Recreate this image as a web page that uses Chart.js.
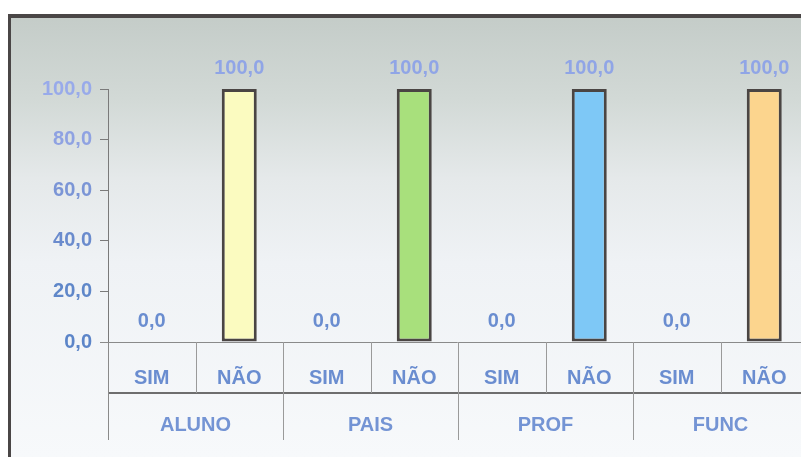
<!DOCTYPE html>
<html>
<head>
<meta charset="utf-8">
<script src="https://cdn.jsdelivr.net/npm/chart.js@4.4.1/dist/chart.umd.min.js"></script>
<style>
  html, body { margin: 0; padding: 0; background: #ffffff; overflow: hidden; }
  #wrap { width: 801px; height: 457px; overflow: hidden; position: relative; }
  canvas { position: absolute; left: 0; top: 0; }
</style>
</head>
<body>
<div id="wrap"><canvas id="c" width="815" height="457"></canvas></div>
<script>
// Groups and answers of the survey
const groups = ['ALUNO', 'PAIS', 'PROF', 'FUNC'];
const answers = ['SIM', 'NÃO'];
const simValues = [0.0, 0.0, 0.0, 0.0];
const naoValues = [100.0, 100.0, 100.0, 100.0];
const naoColors = ['#fbfbc0', '#a8e07c', '#7ec8f6', '#fcd58e'];
const yTickValues = [0, 20, 40, 60, 80, 100];

// Interleave answers per group: SIM, NÃO, SIM, NÃO, ...
const labels = [];
const values = [];
const colors = [];
groups.forEach((g, i) => {
  labels.push(answers[0]); values.push(simValues[i]); colors.push(naoColors[i]);
  labels.push(answers[1]); values.push(naoValues[i]); colors.push(naoColors[i]);
});

const FONT = '"Liberation Sans", Arial, sans-serif';
const fmt = v => v.toFixed(1).replace('.', ',');

// Frame and soft vertical gradient behind the chart
const framePlugin = {
  id: 'frame',
  beforeDraw(chart) {
    const ctx = chart.ctx;
    const w = chart.width, h = chart.height;
    ctx.save();
    ctx.fillStyle = '#ffffff';
    ctx.fillRect(0, 0, w, h);
    const g = ctx.createLinearGradient(0, 15, 0, h);
    g.addColorStop(0.0, '#c4ccc8');
    g.addColorStop(0.19, '#d2d9d6');
    g.addColorStop(0.37, '#e5e9ea');
    g.addColorStop(0.56, '#eff2f5');
    g.addColorStop(1.0, '#f7f9fb');
    ctx.fillStyle = g;
    ctx.fillRect(9, 15, w - 9, h - 15);
    ctx.fillStyle = '#4a4646';
    ctx.fillRect(8, 14, w - 8, 4);
    ctx.fillRect(8, 14, 3, h - 14);
    ctx.restore();
  }
};

// Two-level category axis drawn as a table under the plot
const tableAxisPlugin = {
  id: 'tableAxis',
  afterDraw(chart) {
    const ctx = chart.ctx;
    const x = chart.scales.x, y = chart.scales.y;
    const area = chart.chartArea;
    const y0 = y.getPixelForValue(0);
    const rowMid = y0 + 51;
    const rowEnd = y0 + 98;
    const n = labels.length;
    const half = (x.getPixelForValue(1) - x.getPixelForValue(0)) / 2;
    ctx.save();
    // horizontal lines
    ctx.strokeStyle = '#8a8a8a';
    ctx.lineWidth = 1;
    ctx.beginPath();
    ctx.moveTo(area.left - 8, y0 + 0.5);
    ctx.lineTo(chart.width, y0 + 0.5);
    ctx.stroke();
    ctx.strokeStyle = '#6e6e6e';
    ctx.lineWidth = 2;
    ctx.beginPath();
    ctx.moveTo(area.left, rowMid);
    ctx.lineTo(chart.width, rowMid);
    ctx.stroke();
    // vertical separators
    ctx.lineWidth = 1;
    ctx.strokeStyle = '#9a9a9a';
    for (let i = 0; i < n; i++) {
      const xr = Math.round(x.getPixelForValue(i) + half) + 0.5;
      const bottom = (i % 2 === 1) ? rowEnd : rowMid;
      ctx.beginPath();
      ctx.moveTo(xr, y0);
      ctx.lineTo(xr, bottom);
      ctx.stroke();
    }
    ctx.strokeStyle = '#8a8a8a';
    ctx.beginPath();
    ctx.moveTo(Math.round(area.left) + 0.5, y0);
    ctx.lineTo(Math.round(area.left) + 0.5, rowEnd);
    ctx.stroke();
    // labels
    ctx.textAlign = 'center';
    ctx.textBaseline = 'middle';
    ctx.font = 'bold 20px ' + FONT;
    ctx.fillStyle = '#6a8dd0';
    labels.forEach((lab, i) => {
      ctx.fillText(lab, x.getPixelForValue(i), y0 + 36);
    });
    ctx.fillStyle = '#7494d4';
    groups.forEach((g, gi) => {
      const cx = (x.getPixelForValue(gi * 2) + x.getPixelForValue(gi * 2 + 1)) / 2;
      ctx.fillText(g, cx, y0 + 83);
    });
    ctx.restore();
  }
};

// Value labels above every bar
const valueLabelPlugin = {
  id: 'valueLabels',
  afterDatasetsDraw(chart) {
    const ctx = chart.ctx;
    const meta = chart.getDatasetMeta(0);
    ctx.save();
    ctx.textAlign = 'center';
    ctx.textBaseline = 'middle';
    ctx.font = 'bold 20px ' + FONT;
    meta.data.forEach((bar, i) => {
      const v = values[i];
      ctx.fillStyle = v >= 50 ? '#90a5e6' : '#6a8dd0';
      ctx.fillText(fmt(v), bar.x, bar.y - 21);
    });
    ctx.restore();
  }
};

const tickColors = ['#5c85c8', '#5f87c9', '#6a8bcd', '#7b95d6', '#8fa2e2', '#98aaea'];

new Chart(document.getElementById('c'), {
  type: 'bar',
  data: {
    labels: labels,
    datasets: [{
      data: values,
      backgroundColor: colors,
      borderColor: '#4a4543',
      borderWidth: ctx => (ctx.raw === 0 ? 0 : 3),
      borderSkipped: false,
      barPercentage: 0.8,
      categoryPercentage: 0.5
    }]
  },
  options: {
    responsive: false,
    animation: false,
    devicePixelRatio: 1,
    layout: { padding: { top: 89, bottom: 115, left: 0, right: 7 } },
    plugins: {
      legend: { display: false },
      tooltip: { enabled: false }
    },
    scales: {
      x: {
        type: 'category',
        display: false,
        offset: true
      },
      y: {
        min: 0,
        max: 100,
        afterFit(scale) { scale.width = 108; },
        afterBuildTicks(scale) { scale.ticks = yTickValues.map(v => ({ value: v })); },
        grid: {
          drawOnChartArea: false,
          drawTicks: true,
          tickLength: 8,
          color: '#7a7a7a'
        },
        border: { display: true, color: '#7a7a7a', width: 1 },
        ticks: {
          padding: 8,
          color: ctx => tickColors[ctx.index] || '#6a8dd0',
          font: { family: FONT, size: 20, weight: 'bold' },
          callback: v => fmt(v)
        }
      }
    }
  },
  plugins: [framePlugin, tableAxisPlugin, valueLabelPlugin]
});
</script>
</body>
</html>
